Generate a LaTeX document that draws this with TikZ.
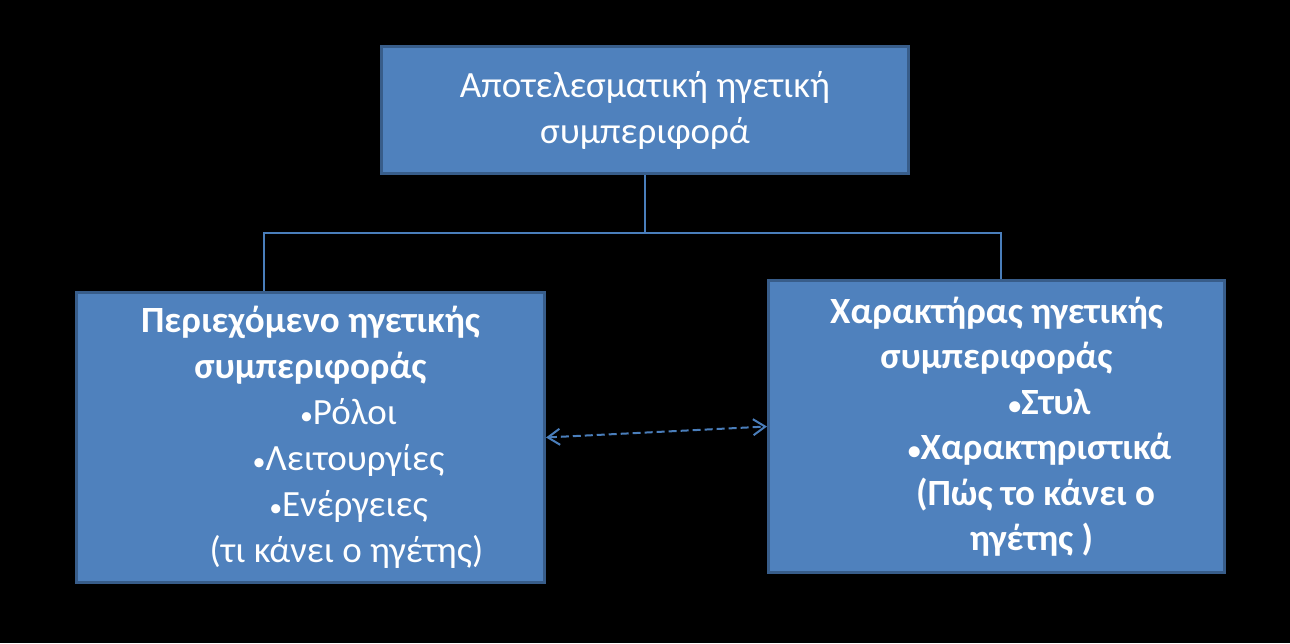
\documentclass[tikz,border=0pt]{standalone}
\usepackage{fontspec}
\setmainfont{Carlito}
\usetikzlibrary{arrows.meta}

\definecolor{boxfill}{HTML}{4F81BD}
\definecolor{boxline}{HTML}{385D8A}
\definecolor{linkblue}{HTML}{4A7EBB}

\tikzset{
  box/.style={fill=boxfill, draw=boxline, line width=3pt, text=white,
    align=center, inner sep=0pt, font=\fontsize{37}{46}\selectfont},
  link/.style={draw=linkblue, line width=1.5pt},
  dashlink/.style={draw=linkblue, line width=2pt, dash pattern=on 8pt off 4pt,
    {Straight Barb[length=12pt,width=16pt]}-{Straight Barb[length=12pt,width=16pt]}}
}
\newcommand{\shiftline}[2]{\hspace*{#1}{\fontsize{26}{46}\selectfont •}#2}

\begin{document}
\begin{tikzpicture}[x=1pt,y=-1pt]
      % Background
      \fill[black] (0,0) rectangle (1290,643);
      \useasboundingbox (0,0) rectangle (1290,643);

      % Boxes
      \node[box, minimum width=527pt, minimum height=127pt] (top) at (645,110)
        {Αποτελεσματική ηγετική\\συμπεριφορά};
      \node[box, minimum width=468pt, minimum height=290pt] (content) at (310.5,437.5)
        {\textbf{Περιεχόμενο ηγετικής}\\\textbf{συμπεριφοράς}\\
         \shiftline{76pt}{Ρόλοι}\\\shiftline{76pt}{Λειτουργίες}\\
         \shiftline{76pt}{Ενέργειες}\\\hspace*{72pt}(τι κάνει ο ηγέτης)};
      \node[box, minimum width=456pt, minimum height=292pt, font=\fontsize{37}{45.5}\selectfont\bfseries] (style) at (996.5,426.5)
        {Χαρακτήρας ηγετικής\\συμπεριφοράς\\
         \shiftline{106pt}{Στυλ}\\\shiftline{86pt}{Χαρακτηριστικά}\\
         \hspace*{78pt}(Πώς το κάνει ο\\\hspace*{70pt}ηγέτης )};

      % Tree lines
      \coordinate (lbus) at (264,233);
      \coordinate (rbus) at (1001,233);
      \draw[link] (top.south) -- (top.south |- lbus);
      \draw[link] (content.north -| lbus) -- (lbus) -- (rbus) -- (style.north -| rbus);

      % Dashed link
      \draw[dashlink] (content.east) -- (style.west);
\end{tikzpicture}
\end{document}
